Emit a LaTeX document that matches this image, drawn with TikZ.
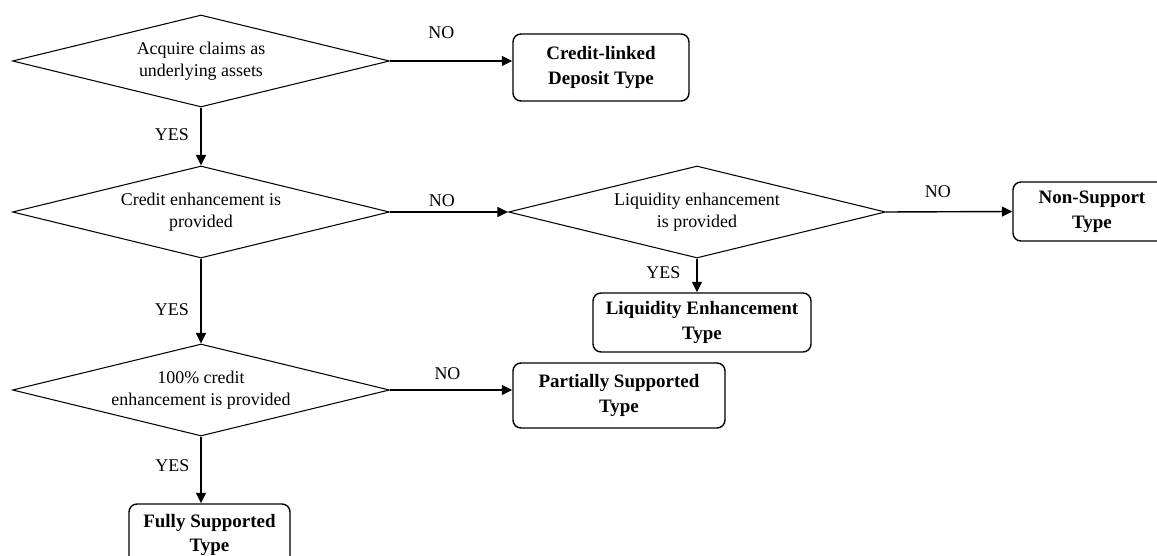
\documentclass[tikz,border=0pt]{standalone}
\usepackage{fontspec}
\setmainfont{Liberation Serif}
\usetikzlibrary{arrows.meta, positioning, calc, shapes.geometric}

\begin{document}
\begin{tikzpicture}[
  every node/.style={font=\fontsize{10.2}{12.5}\selectfont},
  decision/.style={diamond, draw, line width=0.6pt, aspect=4.1, inner sep=0pt,
                   minimum width=7.54cm, minimum height=1.84cm, align=center},
  outcome/.style={draw, rounded corners=0.16cm, line width=0.8pt, align=center,
                  font=\fontsize{10.8}{14}\selectfont\bfseries},
  lbl/.style={inner sep=0pt},
  arr/.style={-{Triangle[length=0.21cm, width=0.2cm]}, line width=0.8pt}
]
  \useasboundingbox (0,0) rectangle (23.14,-11.12);

  % decisions down the left, one on the right
  \node[decision] (acq)  at (4.02, -1.22)  {Acquire claims as\\underlying assets};
  \node[decision] (cre)  at (4.02, -4.24)  {Credit enhancement is\\provided};
  \node[decision] (liq)  at (13.94, -4.24) {Liquidity enhancement\\is provided};
  \node[decision] (full) at (4.02, -7.80)  {100\% credit\\enhancement is provided};

  % resulting types
  \node[outcome, minimum width=3.52cm, minimum height=1.34cm] (cld) at (12.02, -1.35)
       {Credit-linked\\Deposit Type};
  \node[outcome, minimum width=4.36cm, minimum height=1.18cm] (let) at (14.04, -6.45)
       {Liquidity Enhancement\\Type};
  \node[outcome, minimum width=3.16cm, minimum height=1.18cm] (nst) at (21.84, -4.23)
       {Non-Support\\Type};
  \node[outcome, minimum width=4.24cm, minimum height=1.30cm] (pst) at (12.38, -7.91)
       {Partially Supported\\Type};
  \node[outcome, minimum width=3.22cm, minimum height=1.24cm] (fst) at (4.19, -10.70)
       {Fully Supported\\Type};

  % NO branches
  \draw[arr] (acq.east) -- node[lbl, above=0.44cm, pos=0.42] {NO} (acq.east -| cld.west);
  \draw[arr] (cre.east) -- node[lbl, above=0.10cm, pos=0.44] {NO} (liq.west);
  \draw[arr] (liq.east) -- node[lbl, above=0.26cm, pos=0.41] {NO} (nst.west);
  \draw[arr] (full.east) -- node[lbl, above=0.20cm, pos=0.47] {NO} (full.east -| pst.west);

  % YES branches
  \draw[arr] (acq.south) -- node[lbl, left=0.23cm, pos=0.47] {YES} (cre.north);
  \draw[arr] (cre.south) -- node[lbl, left=0.23cm, pos=0.60] {YES} (full.north);
  \draw[arr] (liq.south) -- node[lbl, left=0.32cm, pos=0.42] {YES} (liq.south |- let.north);
  \draw[arr] (full.south) -- node[lbl, left=0.22cm, pos=0.44] {YES} (full.south |- fst.north);
\end{tikzpicture}
\end{document}
